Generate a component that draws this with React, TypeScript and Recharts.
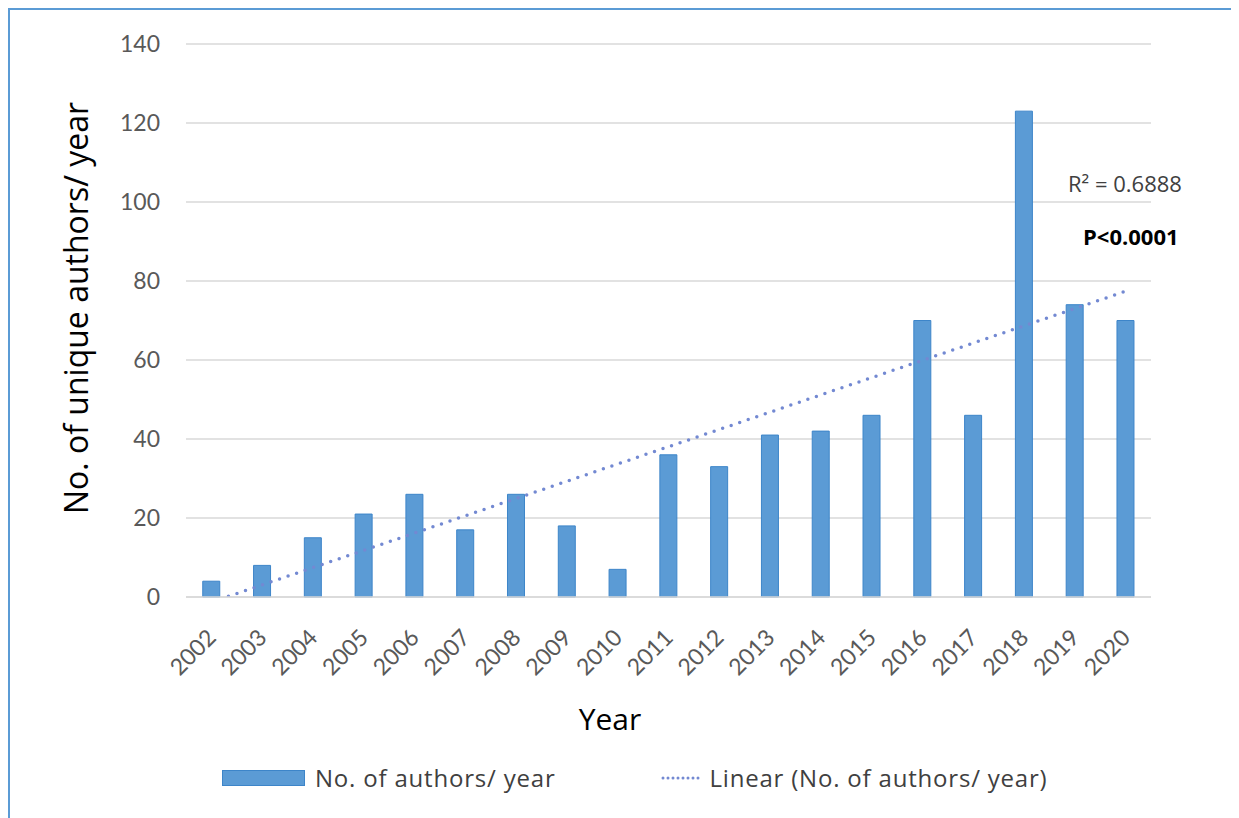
import React from "react";
import { BarChart, Bar, XAxis, YAxis, CartesianGrid, ReferenceLine } from "recharts";

const years = ["2002","2003","2004","2005","2006","2007","2008","2009","2010","2011","2012","2013","2014","2015","2016","2017","2018","2019","2020"];
const authors = [4, 8, 15, 21, 26, 17, 26, 18, 7, 36, 33, 41, 42, 46, 70, 46, 123, 74, 70];
const yTicks = [0, 20, 40, 60, 80, 100, 120, 140];
const trendStart = -1.3;
const trendEnd = 77.4;
const barLabel = "No. of authors/ year";
const trendLabel = "Linear (No. of authors/ year)";
const r2Text = "R² = 0.6888";
const pText = "P<0.0001";

const data = years.map((y, i) => ({ year: y, authors: authors[i] }));

const FONT = "Lato, 'Open Sans', sans-serif";
const WIDE = "'Open Sans', 'Noto Sans', sans-serif";

const XTick = (props: any) => {
  const { x, y, payload } = props;
  const ax = x + 6;
  const ay = y + 34;
  return (
    <text
      x={ax}
      y={ay}
      textAnchor="end"
      fill="#595959"
      fontSize={23}
      fontFamily={FONT}
      transform={`rotate(-45 ${ax} ${ay})`}
    >
      {payload.value}
    </text>
  );
};

export default function App() {
  return (
    <div
      style={{
        position: "relative",
        width: 1231,
        height: 810,
        boxSizing: "border-box",
        borderLeft: "2px solid #5b9bd5",
        borderTop: "2px solid #5b9bd5",
        background: "#fff",
        fontFamily: FONT,
        overflow: "hidden",
      }}
    >
      <style>{`html,body{overflow:hidden}`}</style>
      <BarChart
        width={1229}
        height={808}
        data={data}
        margin={{ top: 34, right: 88, bottom: 161, left: 0 }}
        barCategoryGap="33%"
      >
        <CartesianGrid vertical={false} stroke="#d9d9d9" strokeWidth={1.5} />
        <XAxis
          dataKey="year"
          height={60}
          tick={<XTick />}
          tickLine={false}
          axisLine={{ stroke: "#d9d9d9", strokeWidth: 1.5 }}
          interval={0}
        />
        <YAxis
          width={176}
          domain={[0, 140]}
          ticks={yTicks}
          axisLine={false}
          tickLine={false}
          tickMargin={20}
          tick={{ fill: "#595959", fontSize: 23, fontFamily: FONT }}
        />
        <Bar
          dataKey="authors"
          fill="#5b9bd5"
          stroke="#3d85c9"
          strokeWidth={1}
          isAnimationActive={false}
        />
        <ReferenceLine
          segment={[
            { x: years[0], y: trendStart },
            { x: years[years.length - 1], y: trendEnd },
          ]}
          stroke="#7389d2"
          strokeWidth={3.5}
          strokeDasharray="0 9"
          strokeLinecap="round"
          ifOverflow="hidden"
        />
      </BarChart>

      <div style={{ position: "absolute", left: 65, top: 298, width: 0, height: 0 }}>
        <div
          style={{
            position: "absolute",
            left: 0,
            top: 0,
            transform: "translate(-50%, -50%) rotate(-90deg)",
            whiteSpace: "nowrap",
            fontSize: 32,
            color: "#000",
            fontFamily: WIDE,
          }}
        >
          No. of unique authors/ year
        </div>
      </div>

      <div
        style={{
          position: "absolute",
          left: 600,
          top: 708,
          transform: "translate(-50%, -50%)",
          whiteSpace: "nowrap",
          fontSize: 30,
          color: "#000",
          fontFamily: WIDE,
        }}
      >
        Year
      </div>

      <div
        style={{
          position: "absolute",
          left: 1058,
          top: 158,
          whiteSpace: "nowrap",
          fontSize: 22,
          color: "#404040",
          fontFamily: WIDE,
        }}
      >
        {r2Text}
      </div>
      <div
        style={{
          position: "absolute",
          left: 1073,
          top: 211,
          whiteSpace: "nowrap",
          fontSize: 22,
          fontWeight: 700,
          color: "#000",
          fontFamily: WIDE,
        }}
      >
        {pText}
      </div>

      <div
        style={{
          position: "absolute",
          left: 212,
          top: 751,
          display: "flex",
          alignItems: "center",
          whiteSpace: "nowrap",
          fontSize: 24,
          letterSpacing: "0.8px",
          color: "#404040",
          fontFamily: WIDE,
        }}
      >
        <div style={{ width: 83, height: 16, background: "#5b9bd5", border: "1px solid #3d85c9", boxSizing: "border-box" }} />
        <span style={{ marginLeft: 10 }}>{barLabel}</span>
        <svg width={40} height={10} style={{ marginLeft: 106 }}>
          <line x1={2} y1={5} x2={38} y2={5} stroke="#7389d2" strokeWidth={3} strokeDasharray="0 5" strokeLinecap="round" />
        </svg>
        <span style={{ marginLeft: 8 }}>{trendLabel}</span>
      </div>
    </div>
  );
}
